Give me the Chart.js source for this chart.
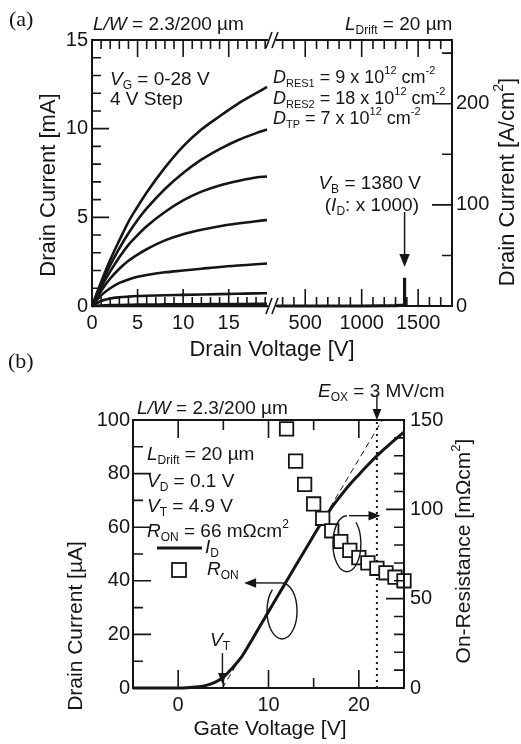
<!DOCTYPE html>
<html>
<head>
<meta charset="utf-8">
<script src="https://cdn.jsdelivr.net/npm/chart.js@4.4.1/dist/chart.umd.min.js"></script>
<style>
  html, body { margin: 0; padding: 0; background: #fff; }
  #wrap { position: relative; width: 521px; height: 744px; }
  #wrap canvas { position: absolute; left: 0; top: 0; }
</style>
</head>
<body>
<div id="wrap">
  <canvas id="a1" width="521" height="744"></canvas>
  <canvas id="a2" width="521" height="744"></canvas>
  <canvas id="b" width="521" height="744"></canvas>
</div>
<script>
// ---- (a) output characteristics, V_G = 0-28 V, 4 V step ----
var vdLow = [0, 1, 2, 3, 4, 5, 6, 8, 10, 12, 14, 16, 18, 19.2];
var idVg0  = [0, 0, 0, 0, 0, 0, 0, 0, 0, 0, 0, 0, 0, 0];
var idVg4  = [0, 0.03, 0.05, 0.06, 0.07, 0.08, 0.08, 0.09, 0.1, 0.1, 0.11, 0.11, 0.12, 0.12];
var idVg8  = [0, 0.28, 0.42, 0.49, 0.53, 0.56, 0.58, 0.61, 0.63, 0.65, 0.67, 0.69, 0.71, 0.72];
var idVg12 = [0, 0.6, 1.0, 1.3, 1.5, 1.65, 1.75, 1.9, 2.0, 2.1, 2.2, 2.28, 2.35, 2.4];
var idVg16 = [0, 0.85, 1.55, 2.1, 2.55, 2.9, 3.2, 3.7, 4.05, 4.3, 4.5, 4.65, 4.78, 4.85];
var idVg20 = [0, 1.05, 1.95, 2.75, 3.45, 4.0, 4.5, 5.3, 5.95, 6.45, 6.8, 7.05, 7.25, 7.3];
var idVg24 = [0, 1.2, 2.3, 3.25, 4.1, 4.85, 5.5, 6.6, 7.5, 8.25, 8.85, 9.35, 9.75, 9.95];
var idVg28 = [0, 1.35, 2.6, 3.7, 4.75, 5.6, 6.4, 7.8, 9.0, 9.95, 10.7, 11.4, 12.0, 12.35];
// blocking current (I_D x 1000) up to breakdown
var vdHigh  = [250, 600, 1000, 1300, 1370, 1380, 1380];
var idBlock = [0, 0, 0, 0.02, 0.05, 0.1, 1.6];
var vBreak = 1380;

// ---- (b) transfer characteristics ----
var vgB = [-5, -4, -3, -2, -1, 0, 1, 2, 3, 4, 5, 6, 7, 8, 9, 10, 11, 12, 13, 14, 15, 16, 17, 18, 19, 20, 21, 22, 23, 24, 25];
var idB = [0, 0, 0, 0, 0, 0, 0.1, 0.35, 0.9, 2.0, 4.0, 7.5, 11.5, 17.0, 22.8, 28.5, 34.2, 39.9, 45.6, 51.2, 56.9, 62.4, 67.4, 71.8, 75.9, 79.6, 83.2, 86.6, 89.7, 92.7, 95.5];
var vgRon = [12, 13, 14, 15, 16, 17, 18, 19, 20, 21, 22, 23, 24, 25];
var ronB  = [145, 127, 114, 103, 95, 88, 82, 77, 73, 70, 67, 64.5, 62, 60];
var tangentVg = [4.9, 22.6];
var tangentId = [0, 100];
var vT = 4.9;
var vgOx = 22;

// tick labels
var xLabelsLow = [0, 5, 10, 15];
var xLabelsHigh = [500, 1000, 1500];
var yLabelsA = [0, 5, 10, 15];
var y2LabelsA = [0, 100, 200];
var xLabelsB = [0, 10, 20];
var yLabelsB = [0, 20, 40, 60, 80, 100];
var y2LabelsB = [0, 50, 100, 150];

var INK = '#151515';
var SANS = "'Liberation Sans', Arial, Helvetica, sans-serif";
var SERIF = "'Liberation Serif', 'Times New Roman', serif";

Chart.defaults.font.family = SANS;
Chart.defaults.color = INK;

function pts(xs, ys) {
  return xs.map(function (x, i) { return { x: x, y: ys[i] }; });
}
function only(list) {
  return function (v) { return list.indexOf(v) >= 0 ? String(v) : ''; };
}

// rich text: parts = [text, style]; style 'i' italic, 's' subscript, 'S' superscript
function fontFor(style, size) {
  if (style === 'i') return 'italic ' + size + 'px ' + SANS;
  if (style === 's' || style === 'S') return Math.round(size * 0.62) + 'px ' + SANS;
  return size + 'px ' + SANS;
}
function drawRich(ctx, parts, x, y, size, align) {
  var w = 0;
  parts.forEach(function (p) { ctx.font = fontFor(p[1], size); w += ctx.measureText(p[0]).width; });
  var cx = align === 'center' ? x - w / 2 : (align === 'right' ? x - w : x);
  ctx.textAlign = 'left';
  ctx.textBaseline = 'middle';
  parts.forEach(function (p) {
    ctx.font = fontFor(p[1], size);
    var dy = p[1] === 's' ? size * 0.32 : (p[1] === 'S' ? -size * 0.38 : 0);
    ctx.fillText(p[0], cx, y + dy);
    cx += ctx.measureText(p[0]).width;
  });
}
function drawRotated(ctx, parts, cx, cy, size) {
  ctx.save();
  ctx.translate(cx, cy);
  ctx.rotate(-Math.PI / 2);
  drawRich(ctx, parts, 0, 0, size, 'center');
  ctx.restore();
}
function arrow(ctx, x1, y1, x2, y2, head) {
  var a = Math.atan2(y2 - y1, x2 - x1);
  var c = Math.cos(a), s = Math.sin(a);
  ctx.beginPath();
  ctx.moveTo(x1, y1);
  ctx.lineTo(x2 - c * head * 0.9, y2 - s * head * 0.9);
  ctx.stroke();
  ctx.beginPath();
  ctx.moveTo(x2, y2);
  ctx.lineTo(x2 - head * c + head * 0.4 * s, y2 - head * s - head * 0.4 * c);
  ctx.lineTo(x2 - head * c - head * 0.4 * s, y2 - head * s + head * 0.4 * c);
  ctx.closePath();
  ctx.fill();
}

// frame and inward tick marks
var framePlugin = {
  id: 'frame',
  afterDatasetsDraw: function (chart, args, opts) {
    var ctx = chart.ctx, a = chart.chartArea;
    ctx.save();
    ctx.strokeStyle = INK;
    ctx.lineWidth = 2;
    ctx.lineCap = 'square';
    ctx.beginPath();
    (opts.sides || []).forEach(function (s) {
      if (s === 'left') { ctx.moveTo(a.left, a.top); ctx.lineTo(a.left, a.bottom); }
      if (s === 'right') { ctx.moveTo(a.right, a.top); ctx.lineTo(a.right, a.bottom); }
      if (s === 'top') { ctx.moveTo(a.left, a.top); ctx.lineTo(a.right, a.top); }
      if (s === 'bottom') { ctx.moveTo(a.left, a.bottom); ctx.lineTo(a.right, a.bottom); }
    });
    ctx.stroke();
    ctx.lineWidth = 1.6;
    ctx.lineCap = 'butt';
    ctx.beginPath();
    (opts.marks || []).forEach(function (m) {
      var sc = chart.scales[m.scale];
      sc.ticks.forEach(function (t) {
        if (t.value <= sc.min || t.value >= sc.max) return;
        var len = t.label !== '' ? m.long : m.short;
        var p = sc.getPixelForValue(t.value);
        m.edges.forEach(function (e) {
          if (e === 'bottom') { ctx.moveTo(p, a.bottom); ctx.lineTo(p, a.bottom - len); }
          if (e === 'top') { ctx.moveTo(p, a.top); ctx.lineTo(p, a.top + len); }
          if (e === 'left') { ctx.moveTo(a.left, p); ctx.lineTo(a.left + len, p); }
          if (e === 'right') { ctx.moveTo(a.right, p); ctx.lineTo(a.right - len, p); }
        });
      });
    });
    ctx.stroke();
    ctx.restore();
  }
};
Chart.register(framePlugin);

function axisBase(min, max, step, labels, pad, size) {
  return {
    type: 'linear', min: min, max: max,
    grid: { display: false, drawTicks: false },
    border: { display: false },
    ticks: {
      stepSize: step, includeBounds: false, autoSkip: false, maxRotation: 0, minRotation: 0,
      padding: pad, font: { size: size }, color: INK, callback: only(labels)
    }
  };
}
function baseOptions(padding) {
  return {
    responsive: false, animation: false, events: [],
    layout: { padding: padding },
    plugins: { legend: { display: false }, tooltip: { enabled: false } },
    elements: { point: { radius: 0 } }
  };
}

// ---------- panel (a), low-voltage part ----------
var curvesA = [idVg0, idVg4, idVg8, idVg12, idVg16, idVg20, idVg24, idVg28];
var optA1 = baseOptions({ left: 0, top: 40, right: 254, bottom: 408 });
optA1.plugins.frame = {
  sides: ['left', 'top', 'bottom'],
  marks: [
    { scale: 'x', edges: ['bottom', 'top'], long: 17, short: 9 },
    { scale: 'y', edges: ['left'], long: 17, short: 9 }
  ]
};
optA1.scales = {
  x: Object.assign(axisBase(0, 19.2, 1, xLabelsLow, 5, 20), { afterFit: function (s) { s.height = 30; } }),
  y: Object.assign(axisBase(0, 15, 1, yLabelsA, 4, 20), { afterFit: function (s) { s.width = 92; } })
};
new Chart(document.getElementById('a1'), {
  type: 'line',
  data: {
    datasets: curvesA.map(function (ys) {
      return { data: pts(vdLow, ys), borderColor: INK, borderWidth: 2.6, pointRadius: 0,
               cubicInterpolationMode: 'monotone', clip: 4 };
    })
  },
  options: optA1
});

// ---------- panel (a), high-voltage part ----------
var optA2 = baseOptions({ left: 277, top: 40, right: 0, bottom: 408 });
optA2.plugins.frame = {
  sides: ['right', 'top', 'bottom'],
  marks: [
    { scale: 'x', edges: ['bottom', 'top'], long: 17, short: 9 },
    { scale: 'y2', edges: ['right'], long: 20, short: 10 }
  ]
};
optA2.scales = {
  x: Object.assign(axisBase(250, 1800, 100, xLabelsHigh, 5, 20), { afterFit: function (s) { s.height = 30; } }),
  y: { type: 'linear', display: false, min: 0, max: 15 },
  y2: Object.assign(axisBase(0, 263, 50, y2LabelsA, 4, 20), { position: 'right', afterFit: function (s) { s.width = 69; } })
};
new Chart(document.getElementById('a2'), {
  type: 'line',
  data: {
    datasets: [{ data: pts(vdHigh, idBlock), yAxisID: 'y', borderColor: INK, borderWidth: 3.2,
                 pointRadius: 0, clip: 4 }]
  },
  options: optA2,
  plugins: [{
    id: 'notesA',
    afterDraw: function (chart) {
      var ctx = chart.ctx, xs = chart.scales.x, ys = chart.scales.y;
      ctx.save();
      ctx.fillStyle = INK;
      ctx.strokeStyle = INK;
      // axis break marks
      ctx.lineWidth = 1.6;
      [40, 306].forEach(function (yy) {
        ctx.beginPath();
        ctx.moveTo(266, yy + 8); ctx.lineTo(272, yy - 8);
        ctx.moveTo(272, yy + 8); ctx.lineTo(278, yy - 8);
        ctx.stroke();
      });
      // breakdown arrow
      ctx.lineWidth = 1.5;
      arrow(ctx, xs.getPixelForValue(vBreak), ys.getPixelForValue(5.3), xs.getPixelForValue(vBreak), ys.getPixelForValue(2.2), 13);

      ctx.font = '22px ' + SERIF;
      ctx.textAlign = 'left'; ctx.textBaseline = 'middle';
      ctx.fillText('(a)', 9, 20);

      drawRich(ctx, [['L/W', 'i'], [' = 2.3/200 \u00b5m', '']], 93, 25, 19, 'left');
      drawRich(ctx, [['L', 'i'], ['Drift', 's'], [' = 20 \u00b5m', '']], 345, 25, 19, 'left');
      drawRich(ctx, [['V', 'i'], ['G', 's'], [' = 0-28 V', '']], 110, 80, 19, 'left');
      drawRich(ctx, [['4 V Step', '']], 110, 100, 19, 'left');
      drawRich(ctx, [['D', 'i'], ['RES1', 's'], [' = 9 x 10', ''], ['12', 'S'], [' cm', ''], ['-2', 'S']], 273, 78, 18, 'left');
      drawRich(ctx, [['D', 'i'], ['RES2', 's'], [' = 18 x 10', ''], ['12', 'S'], [' cm', ''], ['-2', 'S']], 273, 99, 18, 'left');
      drawRich(ctx, [['D', 'i'], ['TP', 's'], [' = 7 x 10', ''], ['12', 'S'], [' cm', ''], ['-2', 'S']], 273, 119, 18, 'left');
      drawRich(ctx, [['V', 'i'], ['B', 's'], [' = 1380 V', '']], 421, 184, 19, 'right');
      drawRich(ctx, [['(', ''], ['I', 'i'], ['D', 's'], [': x 1000)', '']], 419, 206, 19, 'right');

      drawRich(ctx, [['Drain Voltage [V]', '']], 272, 350, 22, 'center');
      drawRotated(ctx, [['Drain Current [mA]', '']], 49, 185, 22);
      drawRotated(ctx, [['Drain Current [A/cm', ''], ['2', 'S'], [']', '']], 508, 182, 22);
      ctx.restore();
    }
  }]
});

// ---------- panel (b) ----------
var optB = baseOptions({ left: 0, top: 420, right: 77, bottom: 26 });
optB.plugins.frame = {
  sides: ['left', 'right', 'top', 'bottom'],
  marks: [
    { scale: 'x', edges: ['bottom', 'top'], long: 18, short: 10 },
    { scale: 'y', edges: ['left'], long: 18, short: 10 },
    { scale: 'y2', edges: ['right'], long: 18, short: 10 }
  ]
};
optB.scales = {
  x: Object.assign(axisBase(-5, 25, 5, xLabelsB, 5, 20), { afterFit: function (s) { s.height = 30; } }),
  y: Object.assign(axisBase(0, 100, 10, yLabelsB, 3, 20), { afterFit: function (s) { s.width = 133; } }),
  y2: Object.assign(axisBase(0, 150, 10, y2LabelsB, 6, 20), { position: 'right', afterFit: function (s) { s.width = 40; } })
};
new Chart(document.getElementById('b'), {
  type: 'line',
  data: {
    datasets: [
      { data: pts(vgRon, ronB), yAxisID: 'y2', showLine: false, pointStyle: 'rect', pointRadius: 9.5,
        pointBorderWidth: 1.8, pointBorderColor: INK, pointBackgroundColor: '#fff', clip: false, order: 0 },
      { data: pts(vgB, idB), yAxisID: 'y', borderColor: INK, borderWidth: 3, pointRadius: 0,
        cubicInterpolationMode: 'monotone', clip: 4, order: 1 },
      { data: pts(tangentVg, tangentId), yAxisID: 'y', borderColor: INK, borderWidth: 1, borderDash: [6, 4],
        pointRadius: 0, order: 2 },
      { data: pts([vgOx, vgOx], [0, 100]), yAxisID: 'y', borderColor: INK, borderWidth: 2, borderDash: [2, 4],
        pointRadius: 0, order: 3 }
    ]
  },
  options: optB,
  plugins: [{
    id: 'notesB',
    afterDraw: function (chart) {
      var ctx = chart.ctx, xs = chart.scales.x, ys = chart.scales.y;
      ctx.save();
      ctx.fillStyle = INK;
      ctx.strokeStyle = INK;
      ctx.font = '22px ' + SERIF;
      ctx.textAlign = 'left'; ctx.textBaseline = 'middle';
      ctx.fillText('(b)', 8, 362);

      drawRich(ctx, [['L/W', 'i'], [' = 2.3/200 \u00b5m', '']], 137, 409, 19, 'left');
      drawRich(ctx, [['E', 'i'], ['OX', 's'], [' = 3 MV/cm', '']], 318, 392, 19, 'left');
      drawRich(ctx, [['L', 'i'], ['Drift', 's'], [' = 20 \u00b5m', '']], 147, 455, 19, 'left');
      drawRich(ctx, [['V', 'i'], ['D', 's'], [' = 0.1 V', '']], 147, 482, 19, 'left');
      drawRich(ctx, [['V', 'i'], ['T', 's'], [' = 4.9 V', '']], 147, 507, 19, 'left');
      drawRich(ctx, [['R', 'i'], ['ON', 's'], [' = 66 m\u03a9cm', ''], ['2', 'S']], 147, 532, 19, 'left');

      // legend
      ctx.lineWidth = 3;
      ctx.beginPath(); ctx.moveTo(157, 548); ctx.lineTo(202, 548); ctx.stroke();
      drawRich(ctx, [['I', 'i'], ['D', 's']], 205, 548, 19, 'left');
      ctx.lineWidth = 1.8;
      ctx.fillStyle = '#fff';
      ctx.fillRect(172, 563, 14, 14);
      ctx.strokeRect(172, 563, 14, 14);
      ctx.fillStyle = INK;
      drawRich(ctx, [['R', 'i'], ['ON', 's']], 207, 570, 19, 'left');

      // V_T marker
      drawRich(ctx, [['V', 'i'], ['T', 's']], 220, 641, 19, 'center');
      ctx.lineWidth = 1.4;
      arrow(ctx, xs.getPixelForValue(vT), ys.getPixelForValue(13), xs.getPixelForValue(vT), ys.getPixelForValue(1.5), 11);
      // E_OX marker
      arrow(ctx, xs.getPixelForValue(vgOx), ys.getPixelForValue(109.5), xs.getPixelForValue(vgOx), ys.getPixelForValue(100), 11);

      // left-axis pointer with loop
      var lx = xs.getPixelForValue(11.5), ly = ys.getPixelForValue(39.2);
      arrow(ctx, lx, ly, xs.getPixelForValue(7.3), ly, 12);
      ctx.beginPath();
      ctx.ellipse(lx, ly + 28, 15, 28, 0, -Math.PI / 2, -Math.PI / 2 + 2 * Math.PI - 0.7);
      ctx.stroke();
      // right-axis pointer with loop
      var rx = xs.getPixelForValue(18.9), ry = ys.getPixelForValue(64.3);
      arrow(ctx, rx, ry, xs.getPixelForValue(22.4), ry, 12);
      ctx.beginPath();
      ctx.ellipse(rx - 2, ry + 28, 14, 28, 0, -Math.PI / 2, -Math.PI / 2 - 2 * Math.PI + 0.7, true);
      ctx.stroke();

      drawRich(ctx, [['Gate Voltage [V]', '']], 270, 729, 21, 'center');
      drawRotated(ctx, [['Drain Current [\u00b5A]', '']], 76, 626, 21);
      drawRotated(ctx, [['On-Resistance [m\u03a9cm', ''], ['2', 'S'], [']', '']], 464, 551, 21);
      ctx.restore();
    }
  }]
});
</script>
</body>
</html>
